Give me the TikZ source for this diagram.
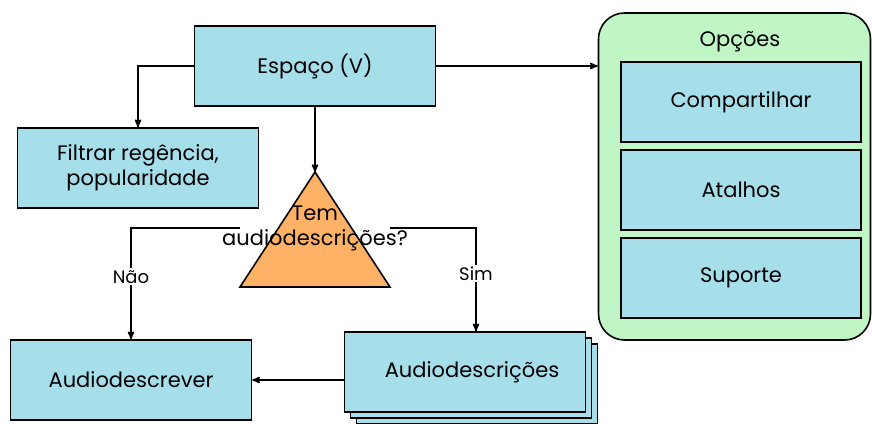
\documentclass[tikz,border=0pt]{standalone}
\usepackage{fontspec}
\setmainfont{Poppins}
\usetikzlibrary{arrows,shapes}
\definecolor{boxblue}{HTML}{A6DEEA}
\definecolor{decorange}{HTML}{FFB266}
\definecolor{optgreen}{HTML}{C0F5C6}
\begin{document}
\begin{tikzpicture}[x=1pt,y=-1pt]
\tikzstyle{every node}=[font=\fontsize{21}{25}\selectfont]
\tikzstyle{blk}=[draw,fill=boxblue,line width=1.6,minimum width=241,minimum height=80,inner sep=0]
\tikzstyle{flow}=[->,>=stealth',line width=1.6]
\tikzstyle{lbl}=[fill=white,inner sep=2,font=\fontsize{18}{20}\selectfont]
\useasboundingbox (0,0) rectangle (872,423);
{
    \node[blk] (esp) at (315,66) {Espaço (V)};
    \node[blk,align=center] (filt) at (138,168) {Filtrar regência,\\popularidade};
    \draw[fill=decorange,line width=1.6] (315,172) coordinate (apex) -- (390,287) coordinate (br) -- (240,287) coordinate (bl) -- cycle;
    \node[align=center,inner sep=0] (dec) at (315,228) {Tem\\audiodescrições?};

    \node[blk] (adv) at (131,380) {Audiodescrever};
    \node[blk] (ads3) at (477,384) {};
    \node[blk] (ads2) at (471,378) {};
    \node[blk] (ads) at (465,372) {\hspace*{14pt}Audiodescrições};

    \node[draw,fill=optgreen,line width=1.6,rounded corners=26,minimum width=272,minimum height=327] (opc) at (734.5,176.5) {};
    \node (optit) at (740,42) {Opções};
    \node[blk,minimum width=240] (comp) at (741,102) {Compartilhar};
    \node[blk,minimum width=240] (atal) at (741,190) {Atalhos};
    \node[blk,minimum width=240] (sup) at (741,278) {Suporte};

    \draw[flow] (esp.east) -- (opc.west |- esp.east);
    \draw[flow] (esp.west) -| (filt.north);
    \draw[flow] (esp.south) -- (apex);
    \draw[flow] (bl |- dec.west) -| node[lbl,pos=0.72]{Não} (adv.north);
    \draw[flow] (br |- dec.east) -| node[lbl,pos=0.72]{Sim} ([xshift=11]ads.north);
    \draw[flow] (ads.west |- adv.east) -- (adv.east);
}
\end{tikzpicture}
\end{document}
